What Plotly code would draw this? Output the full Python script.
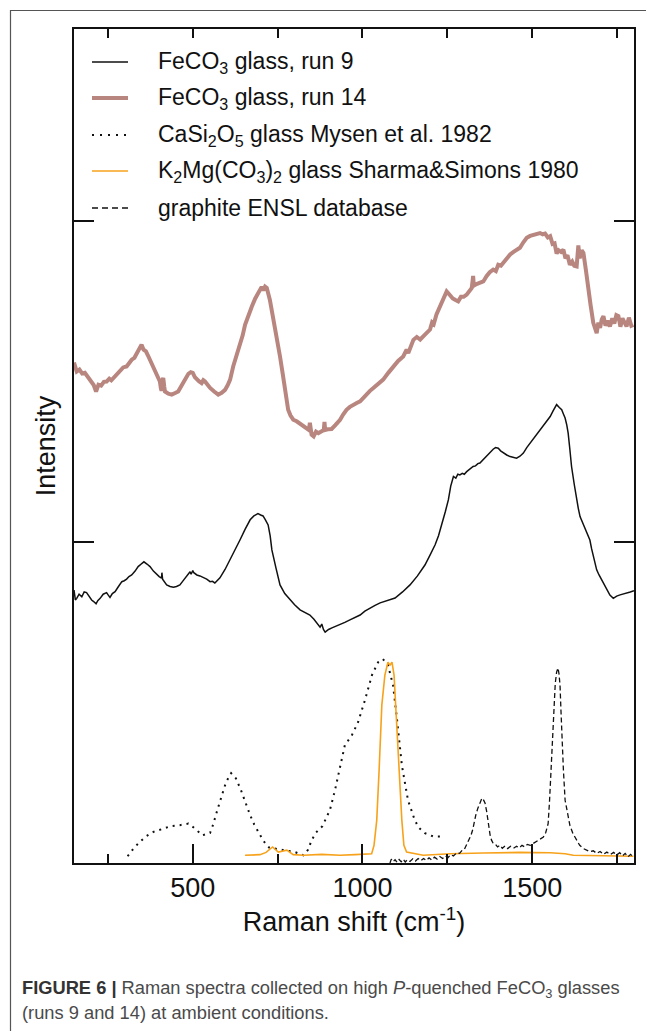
import plotly.graph_objects as go

# ---------------- data (Raman shift cm-1, intensity offset units) ----------------
run9_x = [150,154,158,165,173,180,187,195,202,208,215,220,227,236,246,251,256,263,271,281,291,298,305,312,320,330,339,348,356,365,374,384,394,401,408,409,411,417,423,433,443,452,462,470,477,485,492,495,500,503,512,521,531,541,551,558,565,572,580,595,610,625,639,654,669,680,692,700,707,714,722,728,733,745,757,771,786,800,816,830,845,857,869,875,880,885,890,900,910,922,934,948,963,978,993,1007,1022,1037,1052,1074,1096,1118,1140,1162,1184,1199,1214,1224,1234,1244,1253,1260,1268,1275,1281,1287,1294,1300,1307,1313,1320,1326,1333,1340,1346,1356,1366,1375,1385,1392,1400,1407,1415,1425,1435,1444,1454,1464,1474,1484,1494,1503,1513,1523,1533,1543,1553,1562,1572,1580,1587,1592,1597,1602,1606,1611,1616,1624,1631,1636,1641,1648,1656,1663,1670,1675,1680,1685,1690,1697,1705,1712,1719,1729,1739,1749,1759,1768,1778,1789,1800]
run9_y = [0.851,0.820,0.825,0.838,0.830,0.845,0.843,0.830,0.820,0.815,0.808,0.818,0.825,0.838,0.843,0.835,0.828,0.840,0.846,0.862,0.877,0.880,0.885,0.893,0.898,0.910,0.924,0.932,0.939,0.932,0.924,0.910,0.898,0.893,0.888,0.905,0.885,0.875,0.867,0.862,0.860,0.862,0.867,0.878,0.888,0.900,0.908,0.900,0.912,0.905,0.898,0.895,0.891,0.885,0.877,0.878,0.873,0.882,0.889,0.915,0.945,0.975,1.007,1.040,1.070,1.082,1.089,1.085,1.082,1.070,1.054,1.020,0.976,0.920,0.867,0.840,0.820,0.805,0.789,0.782,0.773,0.760,0.742,0.735,0.745,0.728,0.720,0.728,0.733,0.738,0.742,0.750,0.758,0.765,0.773,0.785,0.795,0.803,0.811,0.818,0.826,0.845,0.867,0.895,0.929,0.960,0.992,1.020,1.054,1.095,1.132,1.175,1.205,1.200,1.212,1.210,1.215,1.212,1.220,1.225,1.230,1.236,1.238,1.245,1.247,1.258,1.267,1.280,1.290,1.295,1.293,1.285,1.278,1.272,1.267,1.265,1.262,1.268,1.278,1.295,1.309,1.322,1.335,1.348,1.361,1.375,1.392,1.410,1.429,1.420,1.413,1.400,1.387,1.365,1.340,1.290,1.236,1.180,1.132,1.105,1.080,1.062,1.044,1.025,1.007,0.980,0.955,0.935,0.914,0.898,0.882,0.866,0.851,0.835,0.825,0.832,0.836,0.838,0.841,0.845,0.849]

run14_x = [150,154,158,166,174,182,192,202,208,215,222,230,238,246,254,260,266,276,286,295,305,312,320,328,335,342,349,355,362,368,374,382,389,396,403,406,408,410,413,416,418,428,438,448,457,465,472,480,487,494,500,506,512,518,526,531,536,544,551,563,575,585,595,603,610,619,629,639,647,654,664,674,684,693,698,703,708,713,718,722,727,734,742,750,757,765,772,776,781,788,796,806,816,826,836,842,845,847,850,856,863,870,878,886,888,890,898,909,920,934,943,953,963,973,983,993,1002,1012,1022,1032,1046,1061,1076,1091,1105,1120,1130,1135,1142,1150,1160,1170,1179,1190,1199,1205,1210,1218,1228,1238,1248,1258,1266,1274,1282,1290,1298,1307,1315,1322,1326,1328,1336,1346,1356,1366,1375,1385,1393,1400,1408,1415,1425,1435,1445,1455,1464,1474,1484,1494,1503,1513,1523,1531,1538,1546,1553,1560,1566,1572,1578,1585,1592,1598,1604,1611,1618,1624,1631,1636,1640,1646,1651,1658,1665,1672,1680,1685,1690,1695,1700,1705,1710,1716,1722,1729,1736,1742,1748,1754,1760,1766,1772,1778,1785,1792,1798]
run14_y = [1.560,1.545,1.532,1.538,1.526,1.528,1.512,1.501,1.490,1.470,1.491,1.488,1.500,1.501,1.510,1.505,1.512,1.522,1.532,1.545,1.548,1.560,1.569,1.575,1.588,1.600,1.616,1.600,1.595,1.582,1.569,1.550,1.532,1.515,1.501,1.480,1.472,1.505,1.512,1.485,1.470,1.463,1.460,1.465,1.470,1.485,1.496,1.512,1.525,1.530,1.528,1.515,1.507,1.502,1.496,1.505,1.501,1.490,1.481,1.470,1.460,1.466,1.475,1.490,1.507,1.548,1.580,1.610,1.645,1.678,1.710,1.735,1.760,1.777,1.790,1.796,1.785,1.797,1.793,1.780,1.756,1.715,1.673,1.625,1.579,1.525,1.475,1.440,1.413,1.395,1.382,1.377,1.369,1.362,1.356,1.350,1.372,1.345,1.335,1.330,1.345,1.340,1.345,1.350,1.375,1.350,1.352,1.353,1.365,1.382,1.398,1.413,1.422,1.429,1.434,1.439,1.450,1.462,1.472,1.481,1.495,1.507,1.528,1.548,1.565,1.579,1.600,1.590,1.612,1.631,1.640,1.632,1.642,1.655,1.663,1.685,1.680,1.710,1.735,1.760,1.782,1.770,1.760,1.755,1.751,1.765,1.765,1.772,1.785,1.793,1.830,1.800,1.805,1.808,1.813,1.830,1.842,1.850,1.845,1.865,1.862,1.871,1.885,1.897,1.905,1.912,1.918,1.935,1.949,1.955,1.958,1.962,1.964,1.960,1.962,1.950,1.954,1.930,1.932,1.900,1.910,1.905,1.912,1.885,1.895,1.865,1.875,1.862,1.860,1.925,1.885,1.910,1.902,1.850,1.787,1.740,1.684,1.665,1.652,1.685,1.668,1.695,1.705,1.675,1.690,1.673,1.698,1.682,1.708,1.705,1.672,1.698,1.685,1.673,1.700,1.675,1.678]

casi_x = [308,323,342,362,384,408,436,462,487,507,528,551,560,574,586,598,613,627,642,657,669,681,695,708,725,777,801,826,840,850,863,882,904,919,934,948,969,987,1007,1028,1046,1060,1075,1090,1102,1116,1134,1152,1164,1184,1208,1233]
casi_y = [0.021,0.042,0.064,0.083,0.097,0.105,0.115,0.118,0.123,0.107,0.086,0.094,0.120,0.171,0.212,0.252,0.280,0.264,0.227,0.180,0.149,0.120,0.094,0.069,0.048,0.040,0.034,0.024,0.042,0.071,0.095,0.115,0.165,0.227,0.305,0.367,0.399,0.439,0.507,0.586,0.626,0.636,0.617,0.555,0.445,0.305,0.196,0.140,0.112,0.093,0.083,0.083]

k2mg_x = [654,698,716,735,752,766,777,796,826,880,934,978,1010,1027,1034,1042,1049,1057,1066,1075,1081,1087,1093,1100,1108,1116,1122,1130,1179,1258,1356,1464,1553,1597,1621,1700,1798]
k2mg_y = [0.024,0.026,0.033,0.050,0.034,0.037,0.040,0.026,0.024,0.027,0.024,0.026,0.029,0.029,0.055,0.133,0.290,0.492,0.586,0.626,0.617,0.626,0.586,0.445,0.258,0.133,0.055,0.034,0.024,0.029,0.031,0.033,0.032,0.029,0.024,0.022,0.021]

graph_x = [1081,1085,1090,1096,1102,1108,1114,1120,1126,1132,1140,1148,1156,1164,1172,1180,1188,1196,1204,1212,1220,1228,1236,1244,1252,1260,1268,1278,1286,1294,1300,1307,1313,1320,1325,1329,1334,1340,1346,1352,1356,1361,1366,1370,1373,1376,1380,1385,1392,1398,1405,1412,1420,1428,1436,1445,1454,1462,1470,1478,1486,1494,1503,1510,1518,1526,1533,1540,1547,1551,1555,1560,1564,1568,1572,1576,1579,1582,1585,1588,1592,1597,1604,1611,1620,1631,1640,1651,1660,1670,1680,1690,1700,1710,1720,1730,1740,1749,1758,1766,1774,1782,1790,1798]
graph_y = [0.000,0.012,0.004,0.010,0.002,0.011,0.004,0.012,0.003,0.010,0.005,0.013,0.006,0.014,0.007,0.014,0.008,0.016,0.009,0.018,0.012,0.020,0.014,0.022,0.017,0.026,0.022,0.032,0.030,0.040,0.042,0.058,0.068,0.087,0.105,0.127,0.150,0.171,0.190,0.202,0.198,0.187,0.160,0.127,0.105,0.087,0.072,0.061,0.058,0.050,0.055,0.046,0.053,0.045,0.052,0.046,0.052,0.047,0.055,0.050,0.058,0.055,0.061,0.066,0.070,0.076,0.081,0.095,0.123,0.190,0.289,0.400,0.492,0.560,0.595,0.608,0.590,0.555,0.470,0.383,0.290,0.196,0.150,0.118,0.092,0.071,0.055,0.045,0.040,0.035,0.038,0.030,0.036,0.027,0.034,0.026,0.033,0.025,0.032,0.022,0.030,0.019,0.027,0.018]

x_major = [500, 1000, 1500]
x_major_text = ["500", "1000", "1500"]
x_top_ticks = [250, 500, 750, 1000, 1250, 1500, 1750]
y_ticks = [1, 2]

legend_labels = [
    "FeCO<sub>3</sub> glass, run 9",
    "FeCO<sub>3</sub> glass, run 14",
    "CaSi<sub>2</sub>O<sub>5</sub> glass Mysen et al. 1982",
    "K<sub>2</sub>Mg(CO<sub>3</sub>)<sub>2</sub> glass Sharma&amp;Simons 1980",
    "graphite ENSL database",
]

# ---------------- styles ----------------
C_RUN9 = "#111111"
C_RUN14 = "#b8867f"
C_CASI = "#111111"
C_K2MG = "#f7a21b"
C_GRAPH = "#111111"
FONT = "Liberation Sans, Arial, Helvetica, sans-serif"

styles = [
    dict(color=C_RUN9, width=1.5, dash="solid"),
    dict(color=C_RUN14, width=4, dash="solid"),
    dict(color=C_CASI, width=2, dash="2px,6px"),
    dict(color=C_K2MG, width=1.6, dash="solid"),
    dict(color=C_GRAPH, width=1.5, dash="6px,4px"),
]

fig = go.Figure()
fig.add_trace(go.Scatter(x=run14_x, y=run14_y, mode="lines", line=styles[1], showlegend=False))
fig.add_trace(go.Scatter(x=run9_x, y=run9_y, mode="lines", line=styles[0], showlegend=False))
fig.add_trace(go.Scatter(x=casi_x, y=casi_y, mode="lines",
                         line=dict(color=C_CASI, width=2, dash="2px,5px"), showlegend=False))
fig.add_trace(go.Scatter(x=k2mg_x, y=k2mg_y, mode="lines", line=dict(color=C_K2MG, width=1.6), showlegend=False))
fig.add_trace(go.Scatter(x=graph_x, y=graph_y, mode="lines", xaxis="x2",
                         line=dict(color=C_GRAPH, width=1.3, dash="5px,3px"), showlegend=False))

# page offset of the figure inside the browser window (default body margin)
OFF = 8
# plot area in window pixels
PL, PR, PT, PB = 74, 634, 29, 862.7
W, H = 654 - OFF, 1031 - OFF
L, T = PL - OFF, PT - OFF
R = W - (PR - OFF)
B = H - (PB - OFF)
pw, ph = W - L - R, H - T - B

def px2paper_x(px):
    return (px - PL) / pw

def py2paper_y(py):
    return (PB - py) / ph

shapes = []
annotations = []

# manual legend
row_y = [62, 98, 135, 171, 208]
for i, (lab, st) in enumerate(zip(legend_labels, styles)):
    yy = py2paper_y(row_y[i])
    shapes.append(dict(type="line", xref="paper", yref="paper",
                       x0=px2paper_x(92), x1=px2paper_x(128), y0=yy, y1=yy,
                       line=dict(color=st["color"], width=st["width"], dash=st["dash"])))
    annotations.append(dict(xref="paper", yref="paper", x=px2paper_x(156), y=yy,
                            xanchor="left", yanchor="middle", showarrow=False,
                            text=lab, font=dict(size=23, color="#111111", family=FONT)))

# outer figure frame (top and left lines)
shapes.append(dict(type="line", xref="paper", yref="paper",
                   x0=px2paper_x(10), x1=px2paper_x(654), y0=py2paper_y(10.5), y1=py2paper_y(10.5),
                   line=dict(color="#555555", width=1.2)))
shapes.append(dict(type="line", xref="paper", yref="paper",
                   x0=px2paper_x(10.5), x1=px2paper_x(10.5), y0=py2paper_y(10), y1=py2paper_y(1031),
                   line=dict(color="#555555", width=1.2)))

# caption
annotations.append(dict(xref="paper", yref="paper", x=px2paper_x(20), y=py2paper_y(989),
                        xanchor="left", yanchor="middle", showarrow=False,
                        text="<b><span style='color:#333333'>FIGURE 6 |</span></b> Raman spectra collected on high <i>P</i>-quenched FeCO<sub>3</sub> glasses",
                        font=dict(size=18.3, color="#4a4a4a", family=FONT)))
annotations.append(dict(xref="paper", yref="paper", x=px2paper_x(20), y=py2paper_y(1012),
                        xanchor="left", yanchor="middle", showarrow=False,
                        text="(runs 9 and 14) at ambient conditions.",
                        font=dict(size=18.3, color="#4a4a4a", family=FONT)))

fig.update_layout(
    width=W, height=H,
    margin=dict(l=L, r=R, t=T, b=B, pad=0),
    paper_bgcolor="white", plot_bgcolor="white",
    font=dict(family=FONT, color="#111111", size=27),
    showlegend=False,
    shapes=shapes,
    annotations=annotations,
    xaxis=dict(range=[150, 1800], tickvals=x_major, ticktext=x_major_text,
               ticks="inside", ticklen=19, tickwidth=1.5, tickcolor="#111111",
               minor=dict(tickmode="array", tickvals=x_top_ticks, ticks="inside", ticklen=9,
                          tickwidth=1.5, tickcolor="#111111", showgrid=False),
               showline=True, linecolor="#111111", linewidth=1.5, mirror=True,
               showgrid=False, zeroline=False,
               tickfont=dict(size=27),
               title=dict(text="Raman shift (cm<sup>-1</sup>)", font=dict(size=27), standoff=10)),
    xaxis2=dict(range=[150, 1800], overlaying="x", side="top", anchor="y",
                tickvals=x_top_ticks, ticks="inside", ticklen=9, tickwidth=1.5, tickcolor="#111111",
                showticklabels=False, showgrid=False, zeroline=False,
                showline=True, linecolor="#111111", linewidth=1.5),
    yaxis=dict(range=[0, 2.6], tickvals=y_ticks, ticks="inside", ticklen=20, tickwidth=1.5,
               tickcolor="#111111", showticklabels=False, showline=True, linecolor="#111111",
               linewidth=1.5, mirror="ticks", showgrid=False, zeroline=False,
               title=dict(text="Intensity", font=dict(size=27), standoff=9)),
)

fig.write_html("out.html")
